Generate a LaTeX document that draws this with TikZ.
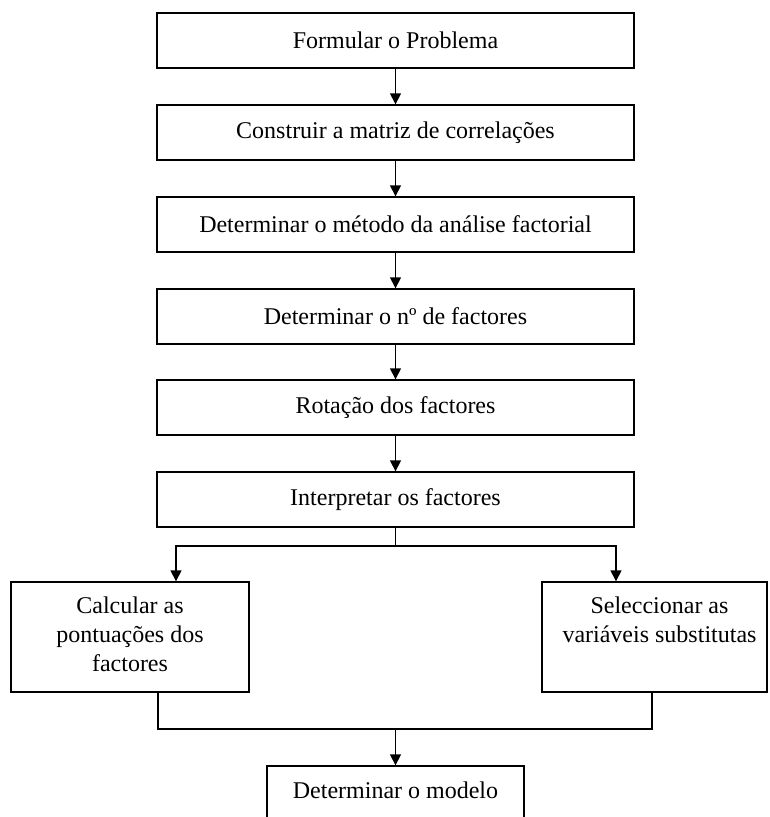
\documentclass[tikz,border=0pt]{standalone}
\usepackage{fontspec}
\setmainfont{Liberation Serif}
\usetikzlibrary{arrows.meta}
\begin{document}
\begin{tikzpicture}[x=1pt,y=-1pt,
  txt/.style={font=\fontsize{24}{29}\selectfont},
  box/.style={draw, line width=1.4pt, inner sep=0pt, txt},
  mainbox/.style={box, minimum width=477pt, minimum height=55pt},
  boxtext/.style={txt, align=center, inner sep=0pt, anchor=north},
  link/.style={line width=1.6pt},
  flow/.style={link, -{Triangle[length=11pt,width=11pt]}}
]
\clip (0,0) rectangle (770,817);
\fill[white] (0,0) rectangle (770,817);

% main chain of steps
\node[mainbox] (s1) at (395.5,40.5)  {Formular o Problema};
\node[mainbox] (s2) at (395.5,132.5) {Construir a matriz de correlações};
\node[mainbox] (s3) at (395.5,224.5) {Determinar o método da análise factorial};
\node[mainbox] (s4) at (395.5,316.5) {Determinar o nº de factores};
\node[mainbox] (s5) at (395.5,407.5) {Rotação dos factores};
\node[mainbox] (s6) at (395.5,499.5) {Interpretar os factores};

% two alternative branches
\node[box, minimum width=238pt, minimum height=110pt] (calc) at (130,637) {};
\node[boxtext] (calct) at ([yshift=-15pt]calc.north) {Calcular as\\pontuações dos\\factores};
\node[box, minimum width=225pt, minimum height=110pt] (sel) at (654.5,637) {};
\node[boxtext] (selt) at ([xshift=5pt,yshift=-15pt]sel.north) {Seleccionar as\\variáveis substitutas};

% final step (runs past the lower edge)
\node[box, minimum width=257pt, minimum height=55pt] (model) at (395.5,793.5) {};
\node[boxtext] (modelt) at ([yshift=-16pt]model.north) {Determinar o modelo};

% connectors
\draw[flow] (s1) -- (s2);
\draw[flow] (s2) -- (s3);
\draw[flow] (s3) -- (s4);
\draw[flow] (s4) -- (s5);
\draw[flow] (s5) -- (s6);

\coordinate (split) at (395.5,546);
\draw[link] (s6.south) -- (split);
\draw[flow] (split) -| ([xshift=46pt]calc.north);
\draw[flow] (split) -| ([xshift=-38.5pt]sel.north);

\coordinate (join) at (395.5,729);
\draw[link] ([xshift=28pt]calc.south) |- (join) -| ([xshift=-2.5pt]sel.south);
\draw[flow] (join) -- (model.north);
\end{tikzpicture}
\end{document}
